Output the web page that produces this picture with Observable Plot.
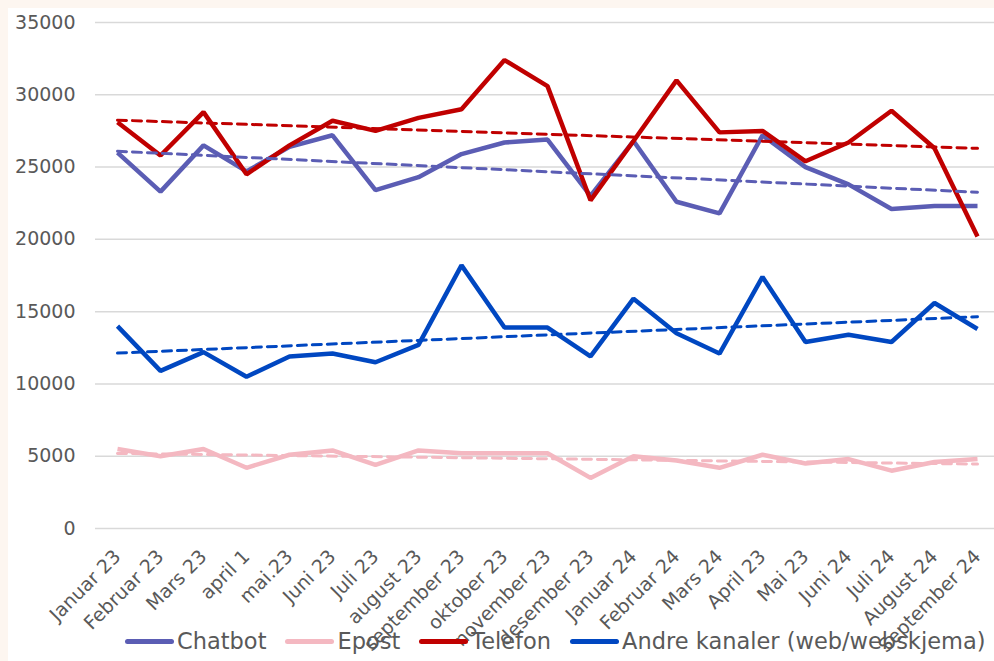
<!DOCTYPE html>
<html>
<head>
<meta charset="utf-8">
<script src="https://cdn.jsdelivr.net/npm/d3@7"></script>
<script src="https://cdn.jsdelivr.net/npm/@observablehq/plot@0.6"></script>
<style>
  html, body { margin: 0; padding: 0; }
  body { background: #fdf6f0; width: 994px; height: 661px; overflow: hidden; }
  #wrap { position: absolute; left: 8px; top: 8px; width: 986px; height: 653px; background: #ffffff; font-family: "DejaVu Sans", sans-serif; }
  #legend { position: absolute; left: 117px; top: 620px; display: flex; align-items: center; gap: 19px; font-size: 22.5px; color: #595959; white-space: nowrap; }
  #legend .item { display: flex; align-items: center; }
  #legend .sw { width: 49px; height: 5px; border-radius: 3px; margin-right: 3px; }
</style>
</head>
<body>
<div id="wrap"><div id="chart"></div><div id="legend"></div></div>
<script>
const months = ["Januar 23","Februar 23","Mars 23","april 1","mai.23","Juni 23","Juli 23","august 23","september 23","oktober 23","november 23","desember 23","Januar 24","Februar 24","Mars 24","April 23","Mai 23","Juni 24","Juli 24","August 24","September 24"];
const seriesNames = ["Chatbot","Epost","Telefon","Andre kanaler (web/webskjema)"];
const seriesColors = ["#5b5db4","#f4b8c1","#c00000","#0047c1"];
const chatbot = [26000,23300,26500,24700,26400,27200,23400,24300,25900,26700,26900,23000,26800,22600,21800,27200,25000,23800,22100,22300,22300];
const epost   = [5500,5000,5500,4200,5100,5400,4400,5400,5200,5200,5200,3500,5000,4700,4200,5100,4500,4800,4000,4600,4800];
const telefon = [28100,25800,28800,24500,26500,28200,27500,28400,29000,32400,30600,22700,26800,31000,27400,27500,25400,26700,28900,26300,20200];
const andre   = [14000,10900,12200,10500,11900,12100,11500,12700,18200,13900,13900,11900,15900,13500,12100,17400,12900,13400,12900,15600,13800];
const yTicks = [0,5000,10000,15000,20000,25000,30000,35000];

const allSeries = [chatbot, epost, telefon, andre];
const rows = [];
allSeries.forEach((vals, s) => vals.forEach((v, i) => rows.push({i, value: v, series: seriesNames[s]})));

const color = {domain: seriesNames, range: seriesColors};

const chart = Plot.plot({
  width: 986,
  height: 622,
  marginLeft: 87,
  marginRight: 0,
  marginTop: 14,
  marginBottom: 102,
  style: {fontFamily: "DejaVu Sans, sans-serif", fontSize: "19px", color: "#595959", background: "transparent", overflow: "visible"},
  x: {domain: [0, 20], range: [109, 969], axis: null, label: null},
  y: {domain: [0, 35000], range: [520, 14], axis: null, label: null},
  color,
  marks: [
    Plot.gridY(yTicks, {stroke: "#d9d9d9", strokeOpacity: 1, strokeWidth: 1.5}),
    Plot.axisY(yTicks, {tickSize: 0, tickPadding: 20, tickFormat: d => String(d), fontSize: 19, fill: "#595959", label: null}),
    Plot.axisX(d3.range(months.length), {tickSize: 0, tickPadding: 25, tickRotate: -45, tickFormat: i => months[i], fontSize: 19, fill: "#595959", label: null}),
    Plot.lineY(rows, {x: "i", y: "value", stroke: "series", strokeWidth: 4.5, strokeLinejoin: "miter", strokeLinecap: "butt"}),
    Plot.linearRegressionY(rows, {x: "i", y: "value", stroke: "series", ci: 0, strokeWidth: 3, strokeDasharray: "9,6"})
  ]
});
document.getElementById("chart").appendChild(chart);

const legend = document.getElementById("legend");
seriesNames.forEach((n, k) => {
  const it = document.createElement("div");
  it.className = "item";
  it.innerHTML = `<span class="sw" style="background:${seriesColors[k]}"></span><span>${n}</span>`;
  legend.appendChild(it);
});
</script>
</body>
</html>
